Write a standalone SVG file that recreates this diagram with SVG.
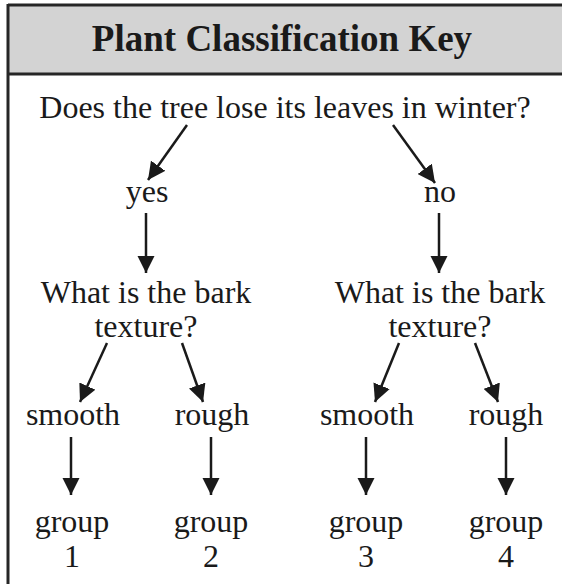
<svg xmlns="http://www.w3.org/2000/svg" width="562" height="584" viewBox="0 0 562 584">
<style>
text{font-family:"Liberation Serif","Times New Roman",serif;fill:#1a1a1a;text-anchor:middle}
.t{font-size:32px}
.h{font-size:37px;font-weight:bold}
.c{stroke:#1a1a1a;stroke-width:2.5;fill:none;marker-end:url(#ah)}
</style>
<defs>
<marker id="ah" viewBox="0 0 10 10" refX="10" refY="5" markerWidth="7" markerHeight="7" orient="auto" markerUnits="strokeWidth">
<path d="M0,0 L10,5 L0,10 Z" fill="#1a1a1a"/>
</marker>
</defs>
<rect x="0" y="0" width="562" height="584" fill="#fff"/>
<g id="header">
<rect x="8" y="5" width="556" height="69" fill="#d3d3d3"/>
<line x1="8" y1="5" x2="562" y2="5" stroke="#262626" stroke-width="3"/>
<line x1="8" y1="74" x2="562" y2="74" stroke="#262626" stroke-width="3"/>
<line x1="8" y1="4" x2="8" y2="584" stroke="#262626" stroke-width="3"/>
<text class="h" x="282" y="51">Plant Classification Key</text>
</g>
<g id="q1"><text class="t" x="285" y="118">Does the tree lose its leaves in winter?</text></g>
<g id="yes"><text class="t" x="147" y="202">yes</text></g>
<g id="no"><text class="t" x="440" y="202">no</text></g>
<g id="q2"><text class="t" x="146" y="303">What is the bark</text><text class="t" x="146" y="337">texture?</text></g>
<g id="q3"><text class="t" x="440" y="303">What is the bark</text><text class="t" x="440" y="337">texture?</text></g>
<g id="smooth1"><text class="t" x="73" y="425">smooth</text></g>
<g id="rough1"><text class="t" x="212" y="425">rough</text></g>
<g id="smooth2"><text class="t" x="367" y="425">smooth</text></g>
<g id="rough2"><text class="t" x="506" y="425">rough</text></g>
<g id="g1"><text class="t" x="72" y="532">group</text><text class="t" x="72" y="567">1</text></g>
<g id="g2"><text class="t" x="211" y="532">group</text><text class="t" x="211" y="567">2</text></g>
<g id="g3"><text class="t" x="366" y="532">group</text><text class="t" x="366" y="567">3</text></g>
<g id="g4"><text class="t" x="506" y="532">group</text><text class="t" x="506" y="567">4</text></g>
<g id="connectors">
<line class="c" x1="187" y1="125" x2="148" y2="180"/>
<line class="c" x1="393" y1="125" x2="435" y2="183"/>
<line class="c" x1="146" y1="213" x2="146" y2="273"/>
<line class="c" x1="439" y1="213" x2="439" y2="273"/>
<line class="c" x1="107" y1="343" x2="80" y2="402"/>
<line class="c" x1="182" y1="343" x2="203" y2="402"/>
<line class="c" x1="399" y1="343" x2="375" y2="402"/>
<line class="c" x1="475" y1="343" x2="498" y2="402"/>
<line class="c" x1="71" y1="437" x2="71" y2="495"/>
<line class="c" x1="211" y1="437" x2="211" y2="495"/>
<line class="c" x1="366" y1="437" x2="366" y2="495"/>
<line class="c" x1="506" y1="437" x2="506" y2="495"/>
</g>
</svg>
